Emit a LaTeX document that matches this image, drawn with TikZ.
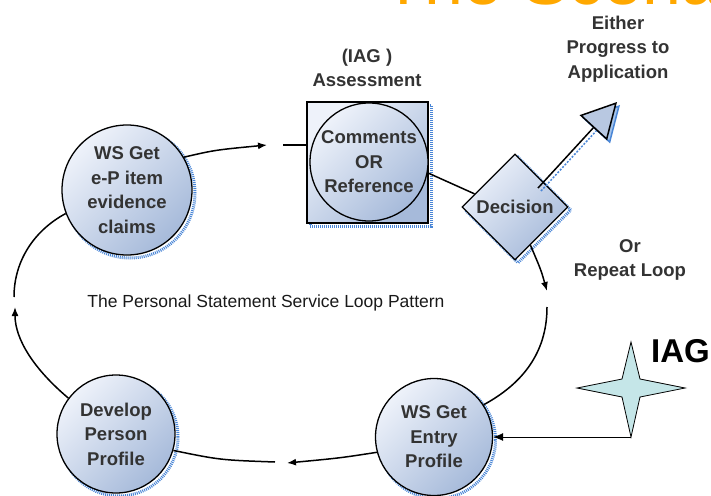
\documentclass[tikz,border=0pt]{standalone}
\usepackage{fontspec}
\setmainfont{Liberation Sans}
\usetikzlibrary{arrows.meta,shapes.geometric,shadows,calc}

\definecolor{nodelight}{RGB}{238,242,250}
\definecolor{nodedark}{RGB}{166,186,218}
\definecolor{shadowblue}{RGB}{74,134,214}
\definecolor{starfill}{RGB}{197,230,232}
\definecolor{titleorange}{RGB}{255,168,0}

\tikzset{
  bub/.style={circle, draw, line width=1.3pt, top color=nodelight, bottom color=nodedark,
    shading angle=45, inner sep=0pt, align=center, text=black!80,
    font=\bfseries\fontsize{18.5pt}{24.5pt}\selectfont},
  blueshadow/.style={shadow xshift=3pt, shadow yshift=-3pt,
    general shadow={draw=shadowblue, line width=3pt, dash pattern=on 1pt off 1pt}},
  flow/.style={line width=1.5pt},
  flowtip/.style={flow, -{Latex[length=9pt,width=7pt]}},
  lbl/.style={align=center, text=black!80, font=\bfseries\fontsize{18.5pt}{24.5pt}\selectfont}
}

\begin{document}
\begin{tikzpicture}[x=1pt,y=-1pt]
    \useasboundingbox (0,0) rectangle (711,495);
    \clip (0,0) rectangle (711,495);

    % Title, cut off at the top
    \node[anchor=base west, inner sep=0pt, text=titleorange,
          font=\fontsize{70pt}{70pt}\selectfont] (title) at (382,5) {The Scenario};

    % Loop nodes
    \node[bub, blueshadow, minimum size=130pt] (ep) at (127,190) {WS Get\\e-P item\\evidence\\claims};
    \node[draw, line width=1.5pt, top color=nodelight, bottom color=nodedark, shading angle=45,
          blueshadow, minimum size=121pt] (sq) at (367.5,162.5) {};
    \node[bub, minimum size=118pt] (cr) at (369,162) {Comments\\OR\\Reference};
    \node[bub, diamond, blueshadow, minimum size=106pt] (dec) at (515,207) {Decision};
    \node[bub, blueshadow, minimum size=117pt] (en) at (434,437) {WS Get\\Entry\\Profile};
    \node[bub, blueshadow, minimum size=118pt] (dv) at (116,434) {Develop\\Person\\Profile};

    % IAG star
    \draw[fill=starfill, line width=0.8pt] (631,342) -- (640,379) -- (685,388) -- (640,397)
        -- (631,437) -- (622,397) -- (577,388) -- (622,379) -- cycle;
    \coordinate (iag) at (631,437);

    % Labels
    \node[lbl] (assess) at (367,68) {(IAG )\\Assessment};
    \node[lbl] (either) at (618,49) {Either\\Progress to\\Application};
    \node[lbl] (repeat) at (630,260) {Or\\Repeat Loop};
    \node[text=black!90, font=\fontsize{17.5pt}{20pt}\selectfont] (loopname) at (266,303) {The Personal Statement Service Loop Pattern};
    \node[anchor=base west, inner sep=0pt, font=\bfseries\fontsize{33pt}{33pt}\selectfont] (iaglabel) at (651,362) {IAG};

    % Connectors round the loop
    \coordinate (t1) at (267,145);
    \coordinate (r1) at (283,145);
    \draw[flowtip] (ep.30) .. controls (215,150) .. (t1);
    \draw[flow] (r1) -- (r1 -| sq.west);

    \draw[flow] (sq.-10) -- (dec.162);

    \coordinate (t3) at (547,291);
    \coordinate (r3) at (547,307);
    \draw[flowtip] (dec.-68) .. controls (541,270) .. (t3);
    \draw[flow] (r3) .. controls (547,355) and (520,385) .. (en.33);

    \draw[line width=0.8pt, -{Latex[length=10pt,width=8pt]}] (iag) -- (en);

    \coordinate (t5) at (287,463);
    \coordinate (r5) at (275,462);
    \draw[flowtip] (en.195) .. controls (340,458) .. (t5);
    \draw[flow] (r5) .. controls (220,460) .. (dv.-16);

    \coordinate (t6) at (15,307);
    \coordinate (r6) at (14,297);
    \draw[flowtip] (dv.143) .. controls (35,370) and (15,340) .. (t6);
    \draw[flow] (r6) .. controls (14,260) and (35,230) .. (ep.201);

    % Way out of the loop
    \coordinate (gostart) at (538,188);
    \coordinate (go) at (617,102);
    \draw[transform canvas={shift={(3pt,-3pt)}}, shadowblue, line width=1.5pt, dash pattern=on 2pt off 1.5pt,
          -{Triangle[length=35pt,width=37pt,fill=shadowblue!50]}] (gostart) -- (go);
    \draw[line width=1.5pt, -{Triangle[length=35pt,width=37pt,fill=nodedark!80]}] (gostart) -- (go);
\end{tikzpicture}
\end{document}
